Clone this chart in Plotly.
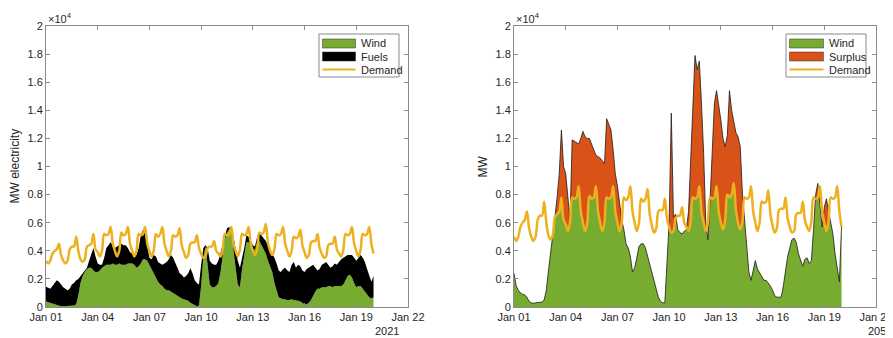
import numpy as np
import pandas as pd
import plotly.graph_objects as go

# ---------------- data (values in units of 10^4 MW, 3-hourly) ----------------
time_2021 = pd.date_range("2021-01-01", periods=153, freq="3h")
time_2050 = pd.date_range("2050-01-01", periods=153, freq="3h")

demand_2021 = [
    0.33, 0.31, 0.33, 0.38, 0.40, 0.41, 0.45, 0.37,
    0.33, 0.31, 0.33, 0.41, 0.43, 0.43, 0.50, 0.40,
    0.34, 0.32, 0.34, 0.43, 0.44, 0.45, 0.52, 0.41,
    0.39, 0.36, 0.40, 0.52, 0.51, 0.52, 0.57, 0.45,
    0.40, 0.36, 0.40, 0.53, 0.51, 0.52, 0.57, 0.45,
    0.40, 0.36, 0.40, 0.52, 0.51, 0.52, 0.57, 0.45,
    0.40, 0.36, 0.40, 0.52, 0.50, 0.52, 0.57, 0.45,
    0.40, 0.36, 0.40, 0.51, 0.50, 0.51, 0.56, 0.44,
    0.39, 0.35, 0.37, 0.45, 0.46, 0.46, 0.51, 0.42,
    0.38, 0.35, 0.36, 0.42, 0.43, 0.43, 0.47, 0.40,
    0.38, 0.36, 0.41, 0.52, 0.51, 0.52, 0.57, 0.45,
    0.40, 0.36, 0.41, 0.52, 0.51, 0.52, 0.57, 0.45,
    0.40, 0.37, 0.41, 0.53, 0.52, 0.53, 0.59, 0.46,
    0.40, 0.37, 0.41, 0.52, 0.51, 0.52, 0.57, 0.45,
    0.40, 0.36, 0.40, 0.50, 0.49, 0.50, 0.55, 0.44,
    0.39, 0.35, 0.37, 0.46, 0.47, 0.47, 0.52, 0.42,
    0.38, 0.35, 0.36, 0.44, 0.45, 0.45, 0.50, 0.41,
    0.38, 0.36, 0.41, 0.52, 0.51, 0.52, 0.57, 0.45,
    0.40, 0.36, 0.41, 0.52, 0.51, 0.52, 0.57, 0.45,
    0.38,
]

wind_2021 = [
    0.04, 0.035, 0.03, 0.025, 0.02, 0.01, 0.005, 0.005,
    0.005, 0.005, 0.005, 0.005, 0.005, 0.01, 0.02, 0.08,
    0.17, 0.22, 0.25, 0.27, 0.28, 0.28, 0.26, 0.25,
    0.25, 0.26, 0.28, 0.29, 0.30, 0.30, 0.30, 0.31,
    0.30, 0.30, 0.31, 0.30, 0.30, 0.30, 0.31, 0.31,
    0.31, 0.30, 0.28, 0.29, 0.31, 0.34, 0.34, 0.33,
    0.30, 0.27, 0.23, 0.20, 0.18, 0.16, 0.15, 0.13,
    0.12, 0.12, 0.11, 0.10, 0.085, 0.08, 0.07, 0.06,
    0.055, 0.05, 0.045, 0.03, 0.02, 0.01, 0.005, 0.01,
    0.15, 0.35, 0.43, 0.30, 0.16, 0.14, 0.14, 0.15,
    0.17, 0.25, 0.38, 0.48, 0.53, 0.55, 0.53, 0.42,
    0.28, 0.16, 0.14, 0.27, 0.38, 0.46, 0.46, 0.43,
    0.41, 0.41, 0.46, 0.47, 0.44, 0.41, 0.38, 0.33,
    0.29, 0.25, 0.17, 0.11, 0.07, 0.06, 0.055, 0.05,
    0.05, 0.05, 0.055, 0.05, 0.05, 0.045, 0.04, 0.03,
    0.02, 0.02, 0.03, 0.05, 0.085, 0.11, 0.13, 0.13,
    0.14, 0.14, 0.14, 0.15, 0.15, 0.14, 0.15, 0.15,
    0.15, 0.15, 0.16, 0.19, 0.22, 0.23, 0.21, 0.17,
    0.14, 0.15, 0.15, 0.13, 0.11, 0.09, 0.07, 0.06,
    0.07,
]

fuels_2021 = [
    0.105, 0.105, 0.10, 0.125, 0.15, 0.18, 0.175, 0.155,
    0.135, 0.125, 0.115, 0.125, 0.155, 0.16, 0.17, 0.12,
    0.05, 0.02, 0.01, 0.01, 0.05, 0.09, 0.16, 0.11,
    0.06, 0.04, 0.02, 0.06, 0.12, 0.14, 0.16, 0.13,
    0.12, 0.13, 0.13, 0.15, 0.14, 0.14, 0.11, 0.08,
    0.07, 0.07, 0.09, 0.13, 0.20, 0.21, 0.18, 0.11,
    0.05, 0.07, 0.14, 0.16, 0.14, 0.15, 0.15, 0.18,
    0.20, 0.22, 0.26, 0.25, 0.235, 0.20, 0.17, 0.17,
    0.155, 0.17, 0.195, 0.245, 0.22, 0.18, 0.165, 0.15,
    0.15, 0.07, 0.01, 0.12, 0.17, 0.17, 0.16, 0.15,
    0.16, 0.14, 0.08, 0.03, 0.03, 0.02, 0.02, 0.08,
    0.12, 0.17, 0.14, 0.07, 0.04, 0.05, 0.04, 0.04,
    0.03, 0.02, 0.04, 0.05, 0.07, 0.08, 0.09, 0.11,
    0.12, 0.14, 0.18, 0.20, 0.19, 0.19, 0.215, 0.23,
    0.21, 0.20, 0.245, 0.27, 0.23, 0.255, 0.25, 0.23,
    0.23, 0.25, 0.25, 0.24, 0.215, 0.17, 0.13, 0.14,
    0.16, 0.17, 0.18, 0.15, 0.13, 0.15, 0.16, 0.15,
    0.17, 0.19, 0.19, 0.17, 0.15, 0.14, 0.16, 0.18,
    0.19, 0.20, 0.22, 0.22, 0.21, 0.18, 0.15, 0.12,
    0.15,
]

demand_2050 = [
    0.50, 0.47, 0.50, 0.57, 0.60, 0.62, 0.68, 0.56,
    0.50, 0.47, 0.50, 0.62, 0.65, 0.65, 0.75, 0.60,
    0.51, 0.48, 0.51, 0.64, 0.66, 0.68, 0.78, 0.62,
    0.59, 0.54, 0.60, 0.78, 0.77, 0.78, 0.86, 0.68,
    0.60, 0.54, 0.60, 0.79, 0.77, 0.78, 0.86, 0.68,
    0.60, 0.54, 0.60, 0.78, 0.77, 0.78, 0.86, 0.68,
    0.60, 0.54, 0.60, 0.78, 0.76, 0.78, 0.86, 0.68,
    0.60, 0.54, 0.60, 0.77, 0.75, 0.77, 0.84, 0.66,
    0.58, 0.53, 0.56, 0.68, 0.69, 0.69, 0.77, 0.63,
    0.57, 0.53, 0.54, 0.63, 0.65, 0.65, 0.71, 0.60,
    0.57, 0.54, 0.61, 0.78, 0.77, 0.78, 0.86, 0.68,
    0.60, 0.54, 0.61, 0.78, 0.77, 0.78, 0.86, 0.68,
    0.60, 0.55, 0.62, 0.80, 0.78, 0.80, 0.88, 0.69,
    0.60, 0.55, 0.61, 0.78, 0.77, 0.78, 0.86, 0.68,
    0.60, 0.54, 0.60, 0.75, 0.74, 0.75, 0.83, 0.66,
    0.58, 0.53, 0.56, 0.69, 0.70, 0.70, 0.78, 0.63,
    0.57, 0.53, 0.54, 0.66, 0.67, 0.67, 0.75, 0.62,
    0.57, 0.54, 0.61, 0.78, 0.77, 0.78, 0.86, 0.68,
    0.60, 0.54, 0.61, 0.78, 0.77, 0.78, 0.86, 0.68,
    0.57,
]

wind_2050 = [
    0.24, 0.15, 0.12, 0.10, 0.09, 0.085, 0.07, 0.04,
    0.03, 0.026, 0.03, 0.03, 0.03, 0.035, 0.05, 0.12,
    0.26, 0.38, 0.48, 0.64, 0.78, 0.95, 1.26, 1.00,
    0.95, 0.75, 0.62, 1.19, 1.18, 1.17, 1.16, 1.20,
    1.25, 1.21, 1.20, 1.20, 1.16, 1.13, 1.08, 1.07,
    1.06, 1.04, 1.02, 1.34, 1.30, 1.26, 1.12, 0.95,
    0.86, 0.72, 0.62, 0.55, 0.45, 0.42, 0.36, 0.25,
    0.28, 0.35, 0.43, 0.45, 0.45, 0.42, 0.36, 0.31,
    0.24, 0.18, 0.12, 0.07, 0.04, 0.03, 0.03, 0.30,
    0.60, 1.38, 0.64, 0.66, 0.55, 0.53, 0.52, 0.54,
    0.55, 0.68, 1.05, 1.50, 1.79, 1.69, 1.75, 1.45,
    1.10, 0.60, 0.48, 0.76, 1.10, 1.45, 1.54, 1.45,
    1.33, 1.20, 1.14, 1.22, 1.54, 1.40, 1.33, 1.24,
    1.21, 1.14, 0.81, 0.62, 0.40, 0.25, 0.19, 0.26,
    0.33, 0.27, 0.24, 0.22, 0.19, 0.19, 0.17, 0.15,
    0.12, 0.08, 0.07, 0.07, 0.07, 0.15, 0.25, 0.36,
    0.42, 0.48, 0.49, 0.46, 0.38, 0.33, 0.29, 0.34,
    0.35, 0.31, 0.33, 0.55, 0.80, 0.88, 0.72, 0.57,
    0.71, 0.77, 0.68, 0.60, 0.52, 0.38, 0.26, 0.18,
    0.57,
]

y_ticks = [0, 0.2, 0.4, 0.6, 0.8, 1.0, 1.2, 1.4, 1.6, 1.8, 2.0]
y_tick_labels = ["0", "0.2", "0.4", "0.6", "0.8", "1", "1.2", "1.4", "1.6", "1.8", "2"]
legend_left = ["Wind", "Fuels", "Demand"]
legend_right = ["Wind", "Surplus", "Demand"]

# ---------------- styling ----------------
# The page body has an 8px margin, so the figure is drawn 8px in from the
# window corner; all target pixel positions below are window positions.
OFF = 8
W, H = 893 - OFF, 338 - OFF
GREEN = "#77AC30"
ORANGE = "#D95319"
YELLOW = "#EDB120"
AXC = "#8a8a8a"
TXT = "#262626"
FONT = "Liberation Sans, Arial, sans-serif"


def px(x):
    return (x - OFF) / W


def py(y):
    return 1 - (y - OFF) / H


w50 = np.array(wind_2050)
d50 = np.array(demand_2050)
wind_below = np.minimum(w50, d50)
surplus = np.maximum(w50 - d50, 0)

fig = go.Figure()

# left panel
fig.add_trace(go.Scatter(x=time_2021, y=wind_2021, stackgroup="L", mode="lines",
                         line=dict(width=0, color=GREEN), fillcolor=GREEN,
                         xaxis="x", yaxis="y", showlegend=False, name="Wind"))
fig.add_trace(go.Scatter(x=time_2021, y=fuels_2021, stackgroup="L", mode="lines",
                         line=dict(width=0, color="black"), fillcolor="black",
                         xaxis="x", yaxis="y", showlegend=False, name="Fuels"))
fig.add_trace(go.Scatter(x=time_2021, y=demand_2021, mode="lines",
                         line=dict(color=YELLOW, width=2.5, shape="spline", smoothing=1.0),
                         xaxis="x", yaxis="y", showlegend=False, name="Demand"))

# right panel
fig.add_trace(go.Scatter(x=time_2050, y=wind_below, stackgroup="R", mode="lines",
                         line=dict(width=0, color=GREEN), fillcolor=GREEN,
                         xaxis="x2", yaxis="y2", showlegend=False, name="Wind"))
fig.add_trace(go.Scatter(x=time_2050, y=surplus, stackgroup="R", mode="lines",
                         line=dict(width=0, color=ORANGE), fillcolor=ORANGE,
                         xaxis="x2", yaxis="y2", showlegend=False, name="Surplus"))
fig.add_trace(go.Scatter(x=time_2050, y=wind_2050, mode="lines",
                         line=dict(color="#1a1a1a", width=0.8),
                         xaxis="x2", yaxis="y2", showlegend=False, hoverinfo="skip"))
fig.add_trace(go.Scatter(x=time_2050, y=demand_2050, mode="lines",
                         line=dict(color=YELLOW, width=2.5, shape="spline", smoothing=1.0),
                         xaxis="x2", yaxis="y2", showlegend=False, name="Demand"))

ydom = [py(307), py(26)]
DAY = 86400000


def xaxis(dom, year, anchor):
    return dict(domain=dom, anchor=anchor, type="date", automargin=False,
                range=[f"{year}-01-01", f"{year}-01-22"],
                tick0=f"{year}-01-01", dtick=3 * DAY, tickformat="%b %d",
                ticks="inside", ticklen=4, tickcolor=AXC, mirror="ticks",
                showline=True, linecolor=AXC, linewidth=1, showgrid=False,
                zeroline=False, tickfont=dict(family=FONT, size=11, color=TXT))


def yaxis(anchor):
    return dict(domain=ydom, anchor=anchor, range=[0, 2], automargin=False,
                tickvals=y_ticks, ticktext=y_tick_labels,
                ticks="inside", ticklen=4, tickcolor=AXC, mirror="ticks",
                showline=True, linecolor=AXC, linewidth=1, showgrid=False,
                zeroline=False, tickfont=dict(family=FONT, size=11, color=TXT))


annotations = []
shapes = []


def txt(x, y, s, size=11, xanchor="left", yanchor="middle", angle=0):
    annotations.append(dict(xref="paper", yref="paper", x=px(x), y=py(y), text=s,
                            showarrow=False, xanchor=xanchor, yanchor=yanchor,
                            textangle=angle,
                            font=dict(family=FONT, size=size, color=TXT)))


# exponent labels
txt(46, 27, "×10<sup>4</sup>", size=11, yanchor="bottom")
txt(514, 27, "×10<sup>4</sup>", size=11, yanchor="bottom")
# axis titles
txt(15, 166.5, "MW electricity", size=12, xanchor="center", angle=-90)
txt(483, 166.5, "MW", size=12, xanchor="center", angle=-90)
# year labels
txt(387, 331, "2021", size=11, xanchor="center")
txt(866, 331, "2050", size=11, xanchor="left")


def legend(x0, x1, y0, y1, sw0, sw1, tx, labels, colors):
    shapes.append(dict(type="rect", xref="paper", yref="paper",
                       x0=px(x0), x1=px(x1), y0=py(y1), y1=py(y0),
                       line=dict(color=AXC, width=1), fillcolor="white", layer="above"))
    rows = [43.5, 56.5, 69.5]
    for i, (lab, col) in enumerate(zip(labels, colors)):
        yc = rows[i]
        if i < 2:
            shapes.append(dict(type="rect", xref="paper", yref="paper",
                               x0=px(sw0), x1=px(sw1), y0=py(yc + 4.5), y1=py(yc - 4.5),
                               line=dict(color="#333333", width=0.5), fillcolor=col,
                               layer="above"))
        else:
            shapes.append(dict(type="line", xref="paper", yref="paper",
                               x0=px(sw0), x1=px(sw1), y0=py(yc), y1=py(yc),
                               line=dict(color=col, width=2.2), layer="above"))
        txt(tx, yc, lab, size=11)


legend(319, 399, 34, 77, 322.5, 355.5, 358.5, legend_left, [GREEN, "black", YELLOW])
legend(786, 866, 34, 77, 789.5, 823.5, 826.5, legend_right, [GREEN, ORANGE, YELLOW])

fig.update_layout(
    width=W, height=H,
    margin=dict(l=0, r=0, t=0, b=0, autoexpand=False),
    paper_bgcolor="white", plot_bgcolor="white",
    showlegend=False,
    xaxis=xaxis([px(46), px(408)], 2021, "y"),
    yaxis=yaxis("x"),
    xaxis2=xaxis([px(514), px(876)], 2050, "y2"),
    yaxis2=yaxis("x2"),
    annotations=annotations,
    shapes=shapes,
)

fig.write_html("out.html")
